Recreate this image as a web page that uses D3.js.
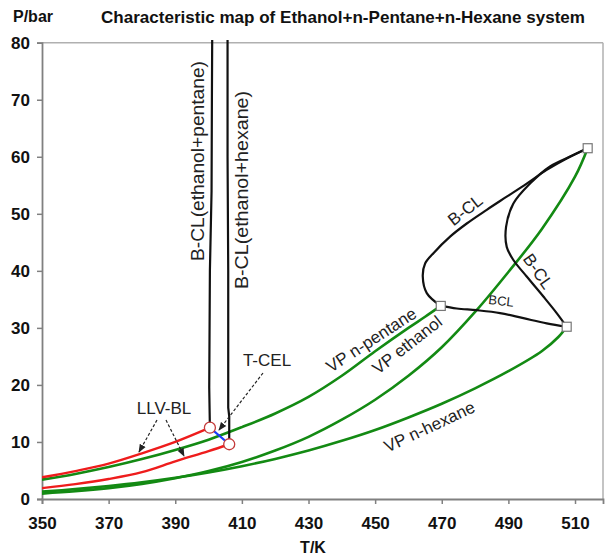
<!DOCTYPE html>
<html><head><meta charset="utf-8">
<script src="https://cdn.jsdelivr.net/npm/d3@7"></script>
<style>
body{margin:0;background:#fff;}
text{font-family:Arial,"Liberation Sans",sans-serif;}
</style></head>
<body><svg id="c" width="608" height="556"></svg>
<script>
// ---- data ----
const xTicks = [350,370,390,410,430,450,470,490,510];
const yTicks = [0,10,20,30,40,50,60,70,80];
const vpPentane = [[350,3.4],[360,4.4],[370,5.6],[380,7.0],[390,8.6],[400,10.4],[410,12.6],[420,15.0],[430,17.9],[440,21.6],[450,25.9],[460,30.0],[465,31.95],[469.7,33.85]];
const vpEthanol = [[350,0.95],[360,1.35],[370,1.9],[380,2.65],[390,3.65],[400,4.9],[410,6.5],[420,8.5],[430,10.9],[440,13.9],[450,17.4],[460,21.6],[470,26.6],[480,32.8],[490,39.8],[500,47.3],[510,56.5],[513.8,61.5]];
const vpHexane = [[350,1.3],[360,1.73],[370,2.27],[380,2.92],[390,3.71],[400,4.65],[410,5.75],[420,7.03],[430,8.5],[440,10.2],[450,12.1],[460,14.3],[470,16.7],[480,19.4],[490,22.4],[500,25.9],[505,28.4],[507.5,30.2]];
const llvUpper = [[350,3.8],[360,4.9],[370,6.2],[380,8.0],[390,10.0],[400.4,12.5]];
const llvLower = [[350,1.9],[360,2.6],[370,3.5],[380,4.7],[390,6.6],[400,8.4],[406.2,9.6]];
const bclPentane = [[400.4,12.5],[400.2,19.5],[400.4,40],[400.9,54],[401.0,70],[401.1,82]];
const bclHexane = [[406.2,9.6],[406.2,14.5],[405.9,16],[405.9,40],[405.7,60],[405.7,82]];
const tcel = [[400.4,12.5],[406.2,9.6]];
const bclUpper = [[469.7,33.85],[465.5,36.1],[464.3,39.0],[465.0,41.3],[467.5,43.1],[472.5,46.0],[477.5,48.3],[483.5,50.7],[489.5,53.0],[495.5,55.3],[501.5,57.7],[507.5,59.7],[513.8,61.5]];
const bclRight = [[513.8,61.5],[509.5,60.3],[502.5,58.3],[496.5,55.3],[491.5,51.8],[489.3,47.7],[489.5,44.2],[491.5,41.9],[495.5,39.0],[500.5,35.5],[504.5,32.6],[507.5,30.2]];
const bclBottom = [[469.7,33.85],[474.5,33.4],[480.5,33.1],[487.5,32.6],[494.5,31.7],[501.5,30.8],[507.5,30.2]];
const critPoints = [[469.7,33.85],[513.8,61.5],[507.5,30.2]];
const cepPoints = [[400.4,12.5],[406.2,9.6]];

const svg = d3.select("#c");
const x = d3.scaleLinear().domain([350,518.4]).range([42,603]);
const y = d3.scaleLinear().domain([0,80]).range([499,42.7]);

const defs = svg.append("defs");
defs.append("clipPath").attr("id","clip")
  .append("rect").attr("x",42).attr("y",40).attr("width",561).attr("height",459);
defs.append("marker").attr("id","arr").attr("viewBox","0 0 10 10").attr("refX",9).attr("refY",5)
  .attr("markerWidth",7).attr("markerHeight",7).attr("orient","auto")
  .append("path").attr("d","M0,1 L10,5 L0,9 Z").attr("fill","#222");

// frame
svg.append("line").attr("x1",42).attr("x2",603).attr("y1",42.7).attr("y2",42.7).attr("stroke","#b0b0b0").attr("stroke-width",1.5);
svg.append("line").attr("x1",603).attr("x2",603).attr("y1",42.7).attr("y2",499).attr("stroke","#b0b0b0").attr("stroke-width",1.5);

// axes
const xa = svg.append("g").attr("transform","translate(0,499)")
  .call(d3.axisBottom(x).tickValues(xTicks).tickSize(5).tickPadding(13).tickFormat(d3.format("d")));
const ya = svg.append("g").attr("transform","translate(42,0)")
  .call(d3.axisLeft(y).tickValues(yTicks).tickSize(5).tickPadding(7).tickFormat(d3.format("d")));
[xa,ya].forEach(a=>{
  a.select(".domain").attr("stroke","#808080").attr("stroke-width",1.8);
  a.selectAll(".tick line").attr("stroke","#808080").attr("stroke-width",1.5);
  a.selectAll(".tick text").attr("font-size",17).attr("font-weight","bold").attr("fill","#111")
   .style("font-family","Arial, 'Liberation Sans', sans-serif");
});

// axis titles and title
svg.append("text").attr("x",13).attr("y",22).attr("font-size",16).attr("font-weight","bold").attr("fill","#111").text("P/bar");
svg.append("text").attr("x",101).attr("y",23).attr("font-size",16.5).attr("font-weight","bold").attr("fill","#111")
  .attr("textLength",484).attr("lengthAdjust","spacingAndGlyphs").text("Characteristic map of Ethanol+n-Pentane+n-Hexane system");
svg.append("text").attr("x",313).attr("y",553).attr("font-size",16).attr("font-weight","bold").attr("fill","#111").attr("text-anchor","middle").text("T/K");

const g = svg.append("g").attr("clip-path","url(#clip)");
const smooth = d3.line().x(d=>x(d[0])).y(d=>y(d[1])).curve(d3.curveCatmullRom.alpha(0.5));
const straight = d3.line().x(d=>x(d[0])).y(d=>y(d[1]));

const green = "#138a13", red = "#ee1c1c";
[vpPentane,vpEthanol,vpHexane].forEach(s=>g.append("path").attr("d",smooth(s)).attr("fill","none").attr("stroke",green).attr("stroke-width",2.6));
[llvUpper,llvLower].forEach(s=>g.append("path").attr("d",smooth(s)).attr("fill","none").attr("stroke",red).attr("stroke-width",2.4));
[bclPentane,bclHexane].forEach(s=>g.append("path").attr("d",straight(s)).attr("fill","none").attr("stroke","#111").attr("stroke-width",2.2));
g.append("path").attr("d",straight(tcel)).attr("fill","none").attr("stroke","#1a3cff").attr("stroke-width",2.2);
[bclUpper,bclRight,bclBottom].forEach(s=>g.append("path").attr("d",smooth(s)).attr("fill","none").attr("stroke","#111").attr("stroke-width",2.2));

// markers
g.selectAll(".cep").data(cepPoints).join("circle").attr("cx",d=>x(d[0])).attr("cy",d=>y(d[1])).attr("r",5.5)
  .attr("fill","#fff").attr("stroke","#c43a3a").attr("stroke-width",1.3);
g.selectAll(".crit").data(critPoints).join("rect").attr("x",d=>x(d[0])-4.5).attr("y",d=>y(d[1])-4.5)
  .attr("width",9).attr("height",9).attr("fill","#fff").attr("stroke","#777").attr("stroke-width",1.2);

// labels
function lab(t,px,py,rot,fs,len){
  const s = svg.append("text").attr("transform",`translate(${px},${py}) rotate(${rot})`).attr("text-anchor","middle")
    .attr("dominant-baseline","middle").attr("font-size",fs).attr("fill","#222").text(t);
  if(len) s.attr("textLength",len).attr("lengthAdjust","spacingAndGlyphs");
}
lab("B-CL(ethanol+pentane)",199,161,-90,18,200);
lab("B-CL(ethanol+hexane)",243,190,-90,18,198);
lab("T-CEL",267,362,0,17);
lab("LLV-BL",164,410,0,17);
lab("B-CL",466,211,-38,17);
lab("B-CL",537,272,55,17);
lab("BCL",501,302,6,13);
lab("VP n-pentane",372,341,-33,17);
lab("VP ethanol",408,346,-38,17);
lab("VP n-hexane",430,428,-25,17);

// dashed arrows
const arrows = [[[263,373],[219,430]],[[157,420],[139,452]],[[166,420],[184,456]]];
arrows.forEach(a=>svg.append("line").attr("x1",a[0][0]).attr("y1",a[0][1]).attr("x2",a[1][0]).attr("y2",a[1][1])
  .attr("stroke","#222").attr("stroke-width",1.2).attr("stroke-dasharray","3,2").attr("marker-end","url(#arr)"));
</script></body></html>
